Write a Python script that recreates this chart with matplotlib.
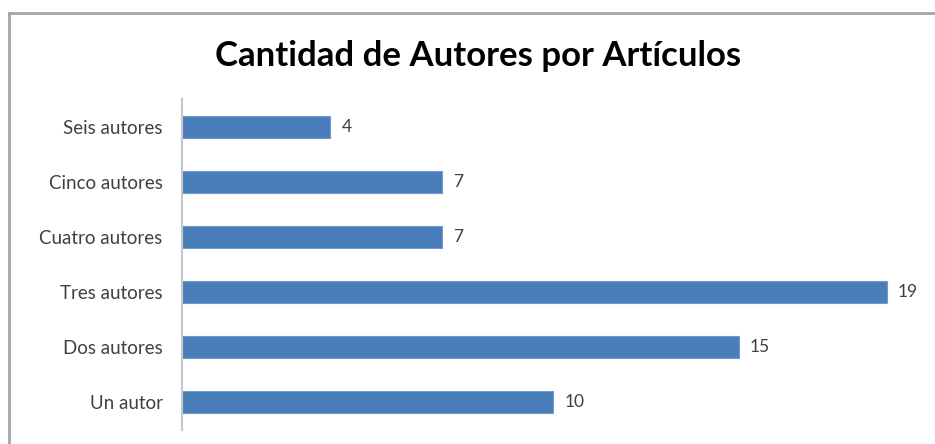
import matplotlib.pyplot as plt
from matplotlib.lines import Line2D

categorias = ['Un autor', 'Dos autores', 'Tres autores', 'Cuatro autores', 'Cinco autores', 'Seis autores']
valores = [10, 15, 19, 7, 7, 4]
titulo = 'Cantidad de Autores por Artículos'

plt.rcParams['font.family'] = ['Lato', 'DejaVu Sans']

W, H = 935, 444
fig = plt.figure(figsize=(W / 100, H / 100), dpi=100)
ax = fig.add_axes([182 / W, 1 - 430 / H, (924 - 182) / W, (430 - 99.5) / H])

y = range(len(categorias))
ax.barh(y, valores, height=0.4, color='#4a7ebb', edgecolor='#6f9bd1', linewidth=0.8)
ax.set_xlim(0, 20)
ax.set_ylim(-0.5, len(categorias) - 0.5)
ax.set_yticks(list(y))
ax.set_yticklabels(categorias, fontsize=13.5, color='#404040')
ax.tick_params(axis='y', length=0, pad=14)
ax.set_xticks([])

for s in ['top', 'right', 'bottom']:
    ax.spines[s].set_visible(False)
ax.spines['left'].set_color('#c8c8c8')
ax.spines['left'].set_linewidth(1.5)

for i, v in enumerate(valores):
    ax.text(v + 0.3, i, str(v), va='center', ha='left', fontsize=12.5, color='#404040')

fig.text(478 / W, 1 - 56 / H, titulo, ha='center', va='center',
         fontsize=25, fontweight='bold', color='black')

# marco del gráfico (solo arriba e izquierda visibles)
fig.add_artist(Line2D([9 / W, 1], [1 - 13 / H, 1 - 13 / H], color='#a6a6a6', lw=2,
                      transform=fig.transFigure))
fig.add_artist(Line2D([9 / W, 9 / W], [0, 1 - 13 / H], color='#a6a6a6', lw=2,
                      transform=fig.transFigure))

fig.savefig('out.png', dpi=100)
